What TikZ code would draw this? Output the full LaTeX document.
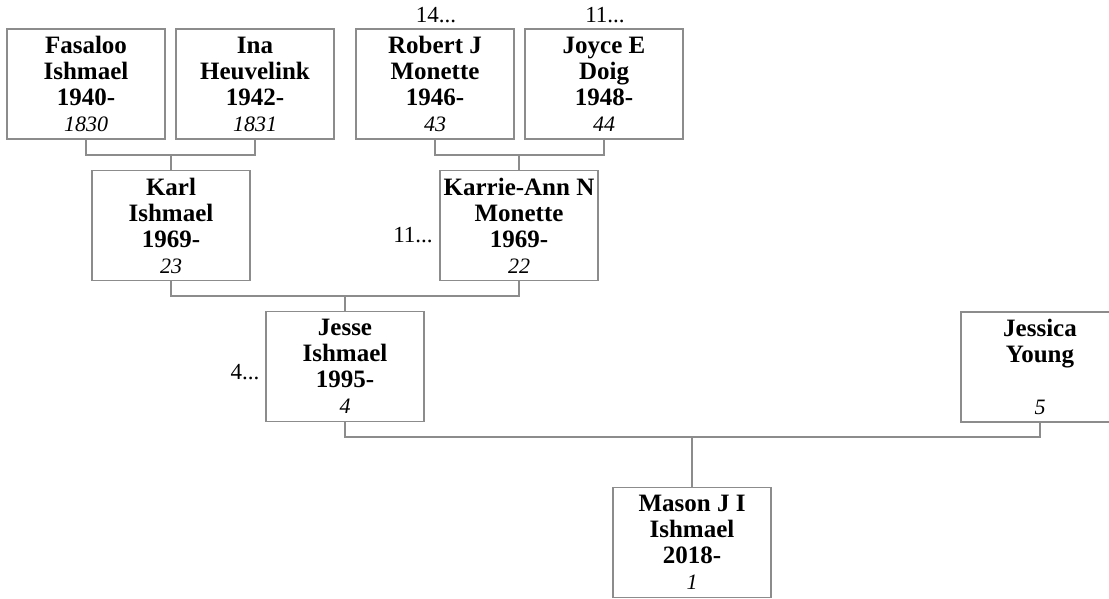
\documentclass[tikz,border=0pt]{standalone}
\usepackage{fontspec}
\setmainfont{Liberation Serif}
\newcommand{\refno}[1]{{\fontsize{11}{13}\selectfont\mdseries\itshape #1}}
\tikzset{
  person/.style={draw=black!45, line width=0.75pt, minimum width=79pt, minimum height=55pt,
    align=center, inner sep=0pt, font=\fontsize{12.5}{13}\selectfont\bfseries},
  link/.style={draw=black!45, line width=0.75pt},
  more/.style={font=\fontsize{11.5}{12}\selectfont}
}
\begin{document}
\begin{tikzpicture}[x=0.5pt,y=-0.5pt]
\useasboundingbox (0,0) rectangle (1109,599);
% grandparents
\node [person] (fasaloo) at (86,84) {Fasaloo\\Ishmael\\1940-\\\refno{1830}};
\node [person] (ina) at (255,84) {Ina\\Heuvelink\\1942-\\\refno{1831}};
\node [person] (robert) at (435,84) {Robert J\\Monette\\1946-\\\refno{43}};
\node [person] (joyce) at (604,84) {Joyce E\\Doig\\1948-\\\refno{44}};
% parents
\node [person] (karl) at (171,225.5) {Karl\\Ishmael\\1969-\\\refno{23}};
\node [person] (karrie) at (519,225.5) {Karrie-Ann N\\Monette\\1969-\\\refno{22}};
\node [person] (jesse) at (345,366.5) {Jesse\\Ishmael\\1995-\\\refno{4}};
\node [person] (jessica) at (1040,367) {Jessica\\Young\\\strut\\\refno{5}};
\node [person] (mason) at (692,542.5) {Mason J I\\Ishmael\\2018-\\\refno{1}};
% continuation marks
\node [more] (robmore) at (436,15) {14...};
\node [more] (joymore) at (605,15) {11...};
\node [more] (karmore) at (413,235) {11...};
\node [more] (jesmore) at (245,372) {4...};
% couple lines
\coordinate (fam1) at (171,155);
\coordinate (fam2) at (519,155);
\coordinate (fam3) at (345,296);
\coordinate (fam4) at (692,437);
\draw [link] (fasaloo.south) -- (fasaloo.south |- fam1) -- (ina.south |- fam1) -- (ina.south);
\draw [link] (fam1) -- (karl.north);
\draw [link] (robert.south) -- (robert.south |- fam2) -- (joyce.south |- fam2) -- (joyce.south);
\draw [link] (fam2) -- (karrie.north);
\draw [link] (karl.south) -- (karl.south |- fam3) -- (karrie.south |- fam3) -- (karrie.south);
\draw [link] (fam3) -- (jesse.north);
\draw [link] (jesse.south) -- (jesse.south |- fam4) -- (jessica.south |- fam4) -- (jessica.south);
\draw [link] (fam4) -- (mason.north);
\end{tikzpicture}
\end{document}
